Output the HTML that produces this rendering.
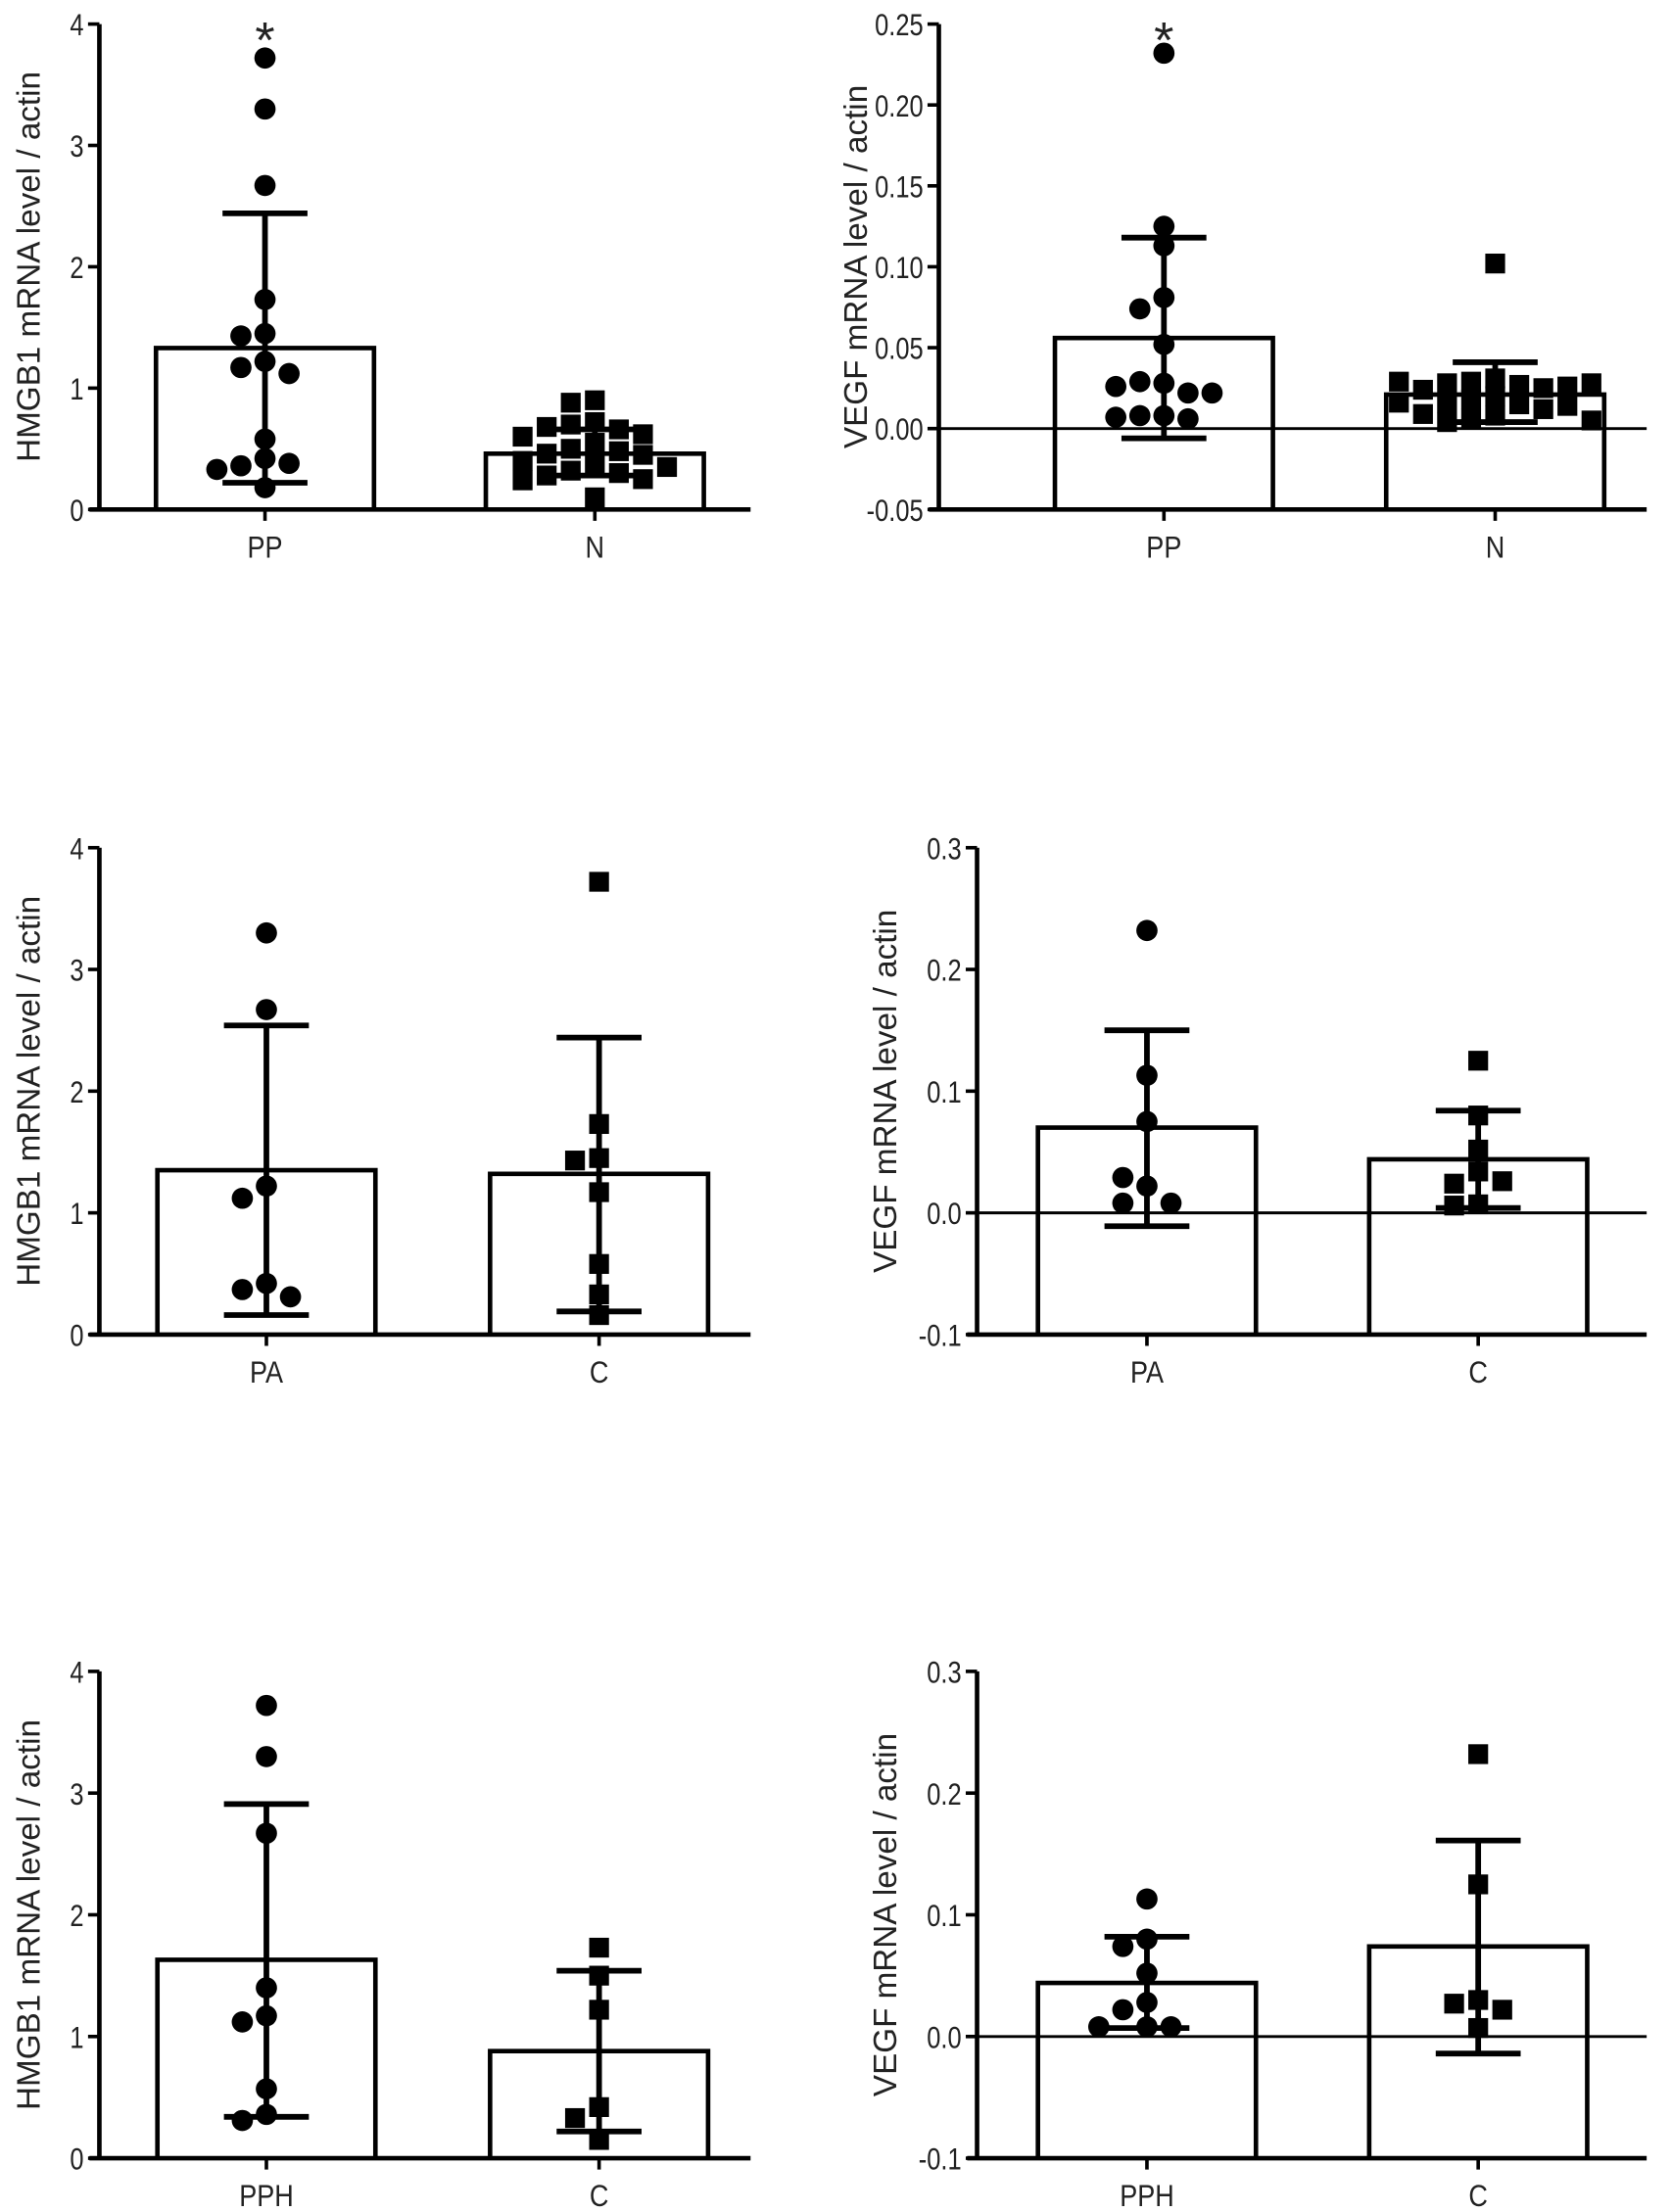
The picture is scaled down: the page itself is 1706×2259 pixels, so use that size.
<!DOCTYPE html>
<html><head><meta charset="utf-8"><style>
html,body{margin:0;padding:0;background:#fff;}
svg{display:block;font-family:"Liberation Sans",Arial,sans-serif;}
</style></head>
<body>
<svg id="fig" width="1706" height="2259" viewBox="0 0 1180 1563" xmlns="http://www.w3.org/2000/svg"></svg>
<script>
// ---- data ----
const p1Cats = ["PP","N"];
const p1Means = [1.33, 0.46];
const p1ErrLo = [0.22, 0.28];
const p1ErrHi = [2.44, 0.66];
const p1PtsA = [3.72,3.3,2.67,1.73,1.45,1.43,1.22,1.17,1.12,0.58,0.42,0.36,0.38,0.33,0.18];
const p1PtsB = [0.9,0.88,0.72,0.7,0.66,0.68,0.62,0.6,0.55,0.5,0.48,0.46,0.45,0.4,0.38,0.35,0.32,0.3,0.28,0.25,0.24,0.1];

const p2Cats = ["PP","N"];
const p2Means = [0.056, 0.021];
const p2ErrLo = [-0.006, 0.004];
const p2ErrHi = [0.118, 0.041];
const p2PtsA = [0.232,0.125,0.113,0.081,0.074,0.052,0.028,0.029,0.022,0.026,0.022,0.008,0.008,0.006,0.007];
const p2PtsB = [0.102,0.031,0.029,0.027,0.028,0.025,0.024,0.026,0.029,0.028,0.02,0.018,0.016,0.015,0.014,0.016,0.012,0.009,0.008,0.006,0.005,0.004];

const p3Cats = ["PA","C"];
const p3Means = [1.35, 1.32];
const p3ErrLo = [0.16, 0.19];
const p3ErrHi = [2.54, 2.44];
const p3PtsA = [3.3,2.67,1.22,1.12,0.42,0.37,0.31];
const p3PtsB = [3.72,1.73,1.45,1.43,1.17,0.58,0.33,0.16];

const p4Cats = ["PA","C"];
const p4Means = [0.07, 0.044];
const p4ErrLo = [-0.011, 0.004];
const p4ErrHi = [0.15, 0.084];
const p4PtsA = [0.232,0.113,0.075,0.022,0.029,0.008,0.008];
const p4PtsB = [0.125,0.08,0.052,0.034,0.024,0.026,0.007,0.006];

const p5Cats = ["PPH","C"];
const p5Means = [1.63, 0.88];
const p5ErrLo = [0.34, 0.22];
const p5ErrHi = [2.91, 1.54];
const p5PtsA = [3.72,3.3,2.67,1.4,1.17,1.12,0.57,0.36,0.31];
const p5PtsB = [1.73,1.5,1.22,0.42,0.33,0.15];

const p6Cats = ["PPH","C"];
const p6Means = [0.044, 0.074];
const p6ErrLo = [0.007, -0.014];
const p6ErrHi = [0.082, 0.161];
const p6PtsA = [0.113,0.08,0.074,0.052,0.028,0.022,0.008,0.008,0.008];
const p6PtsB = [0.232,0.125,0.03,0.027,0.022,0.007];

const hmgbTicks = ["0","1","2","3","4"];
const vegf1Ticks = ["-0.05","0.00","0.05","0.10","0.15","0.20","0.25"];
const vegf2Ticks = ["-0.1","0.0","0.1","0.2","0.3"];

// ---- drawing ----
const svg = document.getElementById('fig');
const NS = "http://www.w3.org/2000/svg";
function mk(tag, attrs, parent){
  const e = document.createElementNS(NS, tag);
  for (const k in attrs) e.setAttribute(k, attrs[k]);
  (parent||svg).appendChild(e);
  return e;
}
function panel(cfg){
  const g = mk('g', {});
  
  
  const ys = v => cfg.bot - (v - cfg.min) / (cfg.max - cfg.min) * (cfg.bot - cfg.top);
  const sw = 3.2;
  cfg.cats.forEach((c, i) => {
    const cx = cfg.centers[i];
    const yb = ys(cfg.min), ym = ys(cfg.means[i]);
    const bar = mk('path', {d:`M${cx-77},${yb} L${cx-77},${ym} L${cx+77},${ym} L${cx+77},${yb}`, fill:'#fff', stroke:'#000', 'stroke-width':sw}, g);
    
    
  });
  if (cfg.min < 0) {
    const z = mk('line', {x1:cfg.axisX, x2:cfg.xend, y1:ys(0), y2:ys(0), stroke:'#000', 'stroke-width':2}, g);
    
    
  }
  cfg.cats.forEach((c, i) => {
    const cx = cfg.centers[i];
    const pts = i === 0 ? cfg.ptsA : cfg.ptsB;
    const placed = [];
    pts.forEach(v => {
      const y = ys(v);
      let x = cx, best = null, bestD = -1;
      const offs = [0,-1,1,-2,2,-3,3,-4,4];
      let ok = false;
      for (const o of offs) {
        const tx = cx + o * 17;
        const d = placed.length ? Math.min(...placed.map(p => Math.hypot(p[0]-tx, p[1]-y))) : 99;
        if (d >= 13) { x = tx; ok = true; break; }
        if (d > bestD) { bestD = d; best = tx; }
      }
      if (!ok) x = best;
      placed.push([x, y]);
      let m;
      if (i === 0 && cfg.circleA) m = mk('circle', {cx:x, cy:y, r:7.5, fill:'#000'}, g);
      else m = mk('rect', {x:x-7, y:y-7, width:14, height:14, fill:'#000'}, g);
      
      
    });
  });
  cfg.cats.forEach((c, i) => {
    const cx = cfg.centers[i];
    const eg = mk('g', {stroke:'#000', 'stroke-width':4}, g);
    
    
    mk('line', {x1:cx, x2:cx, y1:ys(cfg.lo[i]), y2:ys(cfg.hi[i])}, eg);
    mk('line', {x1:cx-30, x2:cx+30, y1:ys(cfg.lo[i]), y2:ys(cfg.lo[i])}, eg);
    mk('line', {x1:cx-30, x2:cx+30, y1:ys(cfg.hi[i]), y2:ys(cfg.hi[i])}, eg);
  });
  const ya = mk('g', {}, g);
  
  
  mk('line', {x1:cfg.axisX, x2:cfg.axisX, y1:cfg.top, y2:cfg.bot, stroke:'#000', 'stroke-width':sw}, ya);
  cfg.ticks.forEach((t, k) => {
    const v = cfg.min + k * cfg.step;
    const y = ys(v);
    mk('line', {x1:cfg.axisX-8, x2:cfg.axisX, y1:y, y2:y, stroke:'#000', 'stroke-width':2.5}, ya);
    const tl = mk('text', {x:0, y:0, transform:`translate(${cfg.axisX-11},${y+8}) scale(0.8,1)`, 'text-anchor':'end', 'font-size':22, fill:'#222'}, ya);
    tl.textContent = t;
    
    
  });
  const xa = mk('g', {}, g);
  
  
  mk('line', {x1:cfg.axisX-7, x2:cfg.xend, y1:cfg.bot, y2:cfg.bot, stroke:'#000', 'stroke-width':sw}, xa);
  cfg.cats.forEach((c, i) => {
    const cx = cfg.centers[i];
    mk('line', {x1:cx, x2:cx, y1:cfg.bot, y2:cfg.bot+8, stroke:'#000', 'stroke-width':2.5}, xa);
    const xl = mk('text', {x:0, y:0, transform:`translate(${cx},${cfg.bot+34}) scale(0.85,1)`, 'text-anchor':'middle', 'font-size':22, fill:'#222'}, xa);
    xl.textContent = c;
    
    
  });
  const ym = (cfg.top + cfg.bot) / 2;
  const yt = mk('text', {x:0, y:0, transform:`translate(${cfg.titleX},${ym}) rotate(-90)`, 'text-anchor':'middle', 'font-size':23, fill:'#222'}, g);
  yt.textContent = cfg.title;
  
  
  if (cfg.star) {
    const s = mk('text', {x:cfg.centers[0], y:cfg.top+24, 'text-anchor':'middle', 'font-size':36, fill:'#222'}, g);
    s.textContent = '*';
    
    
  }
}
const H = "HMGB1 mRNA level / actin", V = "VEGF mRNA level / actin";
panel({name:'panel-hmgb1-pp-n', cats:p1Cats, means:p1Means, lo:p1ErrLo, hi:p1ErrHi, ptsA:p1PtsA, ptsB:p1PtsB, circleA:true,
  axisX:70, top:17, bot:360, min:0, max:4, step:1, ticks:hmgbTicks, centers:[187,420], xend:530, title:H, titleX:28, star:true});
panel({name:'panel-vegf-pp-n', cats:p2Cats, means:p2Means, lo:p2ErrLo, hi:p2ErrHi, ptsA:p2PtsA, ptsB:p2PtsB, circleA:true,
  axisX:663, top:17, bot:360, min:-0.05, max:0.25, step:0.05, ticks:vegf1Ticks, centers:[822,1056], xend:1163, title:V, titleX:612, star:true});
panel({name:'panel-hmgb1-pa-c', cats:p3Cats, means:p3Means, lo:p3ErrLo, hi:p3ErrHi, ptsA:p3PtsA, ptsB:p3PtsB, circleA:true,
  axisX:70, top:599, bot:943, min:0, max:4, step:1, ticks:hmgbTicks, centers:[188,423], xend:530, title:H, titleX:28});
panel({name:'panel-vegf-pa-c', cats:p4Cats, means:p4Means, lo:p4ErrLo, hi:p4ErrHi, ptsA:p4PtsA, ptsB:p4PtsB, circleA:true,
  axisX:690, top:599, bot:943, min:-0.1, max:0.3, step:0.1, ticks:vegf2Ticks, centers:[810,1044], xend:1163, title:V, titleX:633});
panel({name:'panel-hmgb1-pph-c', cats:p5Cats, means:p5Means, lo:p5ErrLo, hi:p5ErrHi, ptsA:p5PtsA, ptsB:p5PtsB, circleA:true,
  axisX:70, top:1181, bot:1525, min:0, max:4, step:1, ticks:hmgbTicks, centers:[188,423], xend:530, title:H, titleX:28});
panel({name:'panel-vegf-pph-c', cats:p6Cats, means:p6Means, lo:p6ErrLo, hi:p6ErrHi, ptsA:p6PtsA, ptsB:p6PtsB, circleA:true,
  axisX:690, top:1181, bot:1525, min:-0.1, max:0.3, step:0.1, ticks:vegf2Ticks, centers:[810,1044], xend:1163, title:V, titleX:633});
</script>
</body></html>
